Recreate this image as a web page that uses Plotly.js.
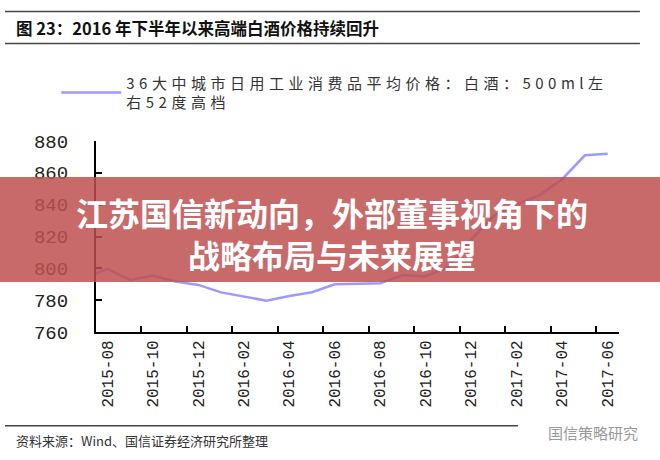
<!DOCTYPE html>
<html>
<head>
<meta charset="utf-8">
<script src="https://cdn.plot.ly/plotly-3.0.1.min.js"></script>
<style>
  html, body { margin: 0; padding: 0; background: #fff; }
  #chart { width: 660px; height: 460px; }
  .legendtext { letter-spacing: 4.5px; }
</style>
</head>
<body>
<div id="chart"></div>
<script>
// ---- data ----
const months = ['2015-07','2015-08','2015-09','2015-10','2015-11','2015-12',
  '2016-01','2016-02','2016-03','2016-04','2016-05','2016-06','2016-07','2016-08',
  '2016-09','2016-10','2016-11','2016-12','2017-01','2017-02','2017-03','2017-04',
  '2017-05','2017-06'];
const priceHighBaijiu = [794, 799.6, 792.7, 795.5, 791.7, 789.6,
  784.9, 782.2, 779.7, 782.6, 785, 790, 790.4, 790.7,
  795.8, 794.9, 801, 818, 833, 840, 846, 856,
  871, 872];
const tickLabels = ['2015-08','2015-10','2015-12','2016-02','2016-04','2016-06',
  '2016-08','2016-10','2016-12','2017-02','2017-04','2017-06'];
const yTicks = [760, 780, 800, 820, 840, 860, 880];
const seriesName = '36大中城市日用工业消费品平均价格：白酒：500ml左<br>右52度高档';
const figTitle = '图 23：2016 年下半年以来高端白酒价格持续回升';
const sourceText = '资料来源：Wind、国信证券经济研究所整理';
const bannerText = '江苏国信新动向，外部董事视角下的<br>战略布局与未来展望';
const watermark = '国信策略研究';

const cjk = '"Noto Sans CJK SC", "Noto Sans", sans-serif';
const mono = '"Liberation Mono", "DejaVu Sans Mono", monospace';

const trace = {
  type: 'scatter',
  mode: 'lines',
  x: months,
  y: priceHighBaijiu,
  name: seriesName,
  line: { color: '#9a9aff', width: 2.5 },
  showlegend: true
};

const layout = {
  width: 660, height: 460,
  margin: { l: 96, r: 41, t: 141, b: 128, pad: 0 },
  paper_bgcolor: '#ffffff',
  plot_bgcolor: '#ffffff',
  showlegend: true,
  legend: {
    x: -0.076, xanchor: 'left', y: 1.39, yanchor: 'top',
    font: { family: cjk, size: 15, color: '#333' },
    bgcolor: 'rgba(0,0,0,0)', borderwidth: 0,
    itemwidth: 60
  },
  xaxis: {
    type: 'category',
    categoryorder: 'array', categoryarray: months,
    range: [0.5, 23.5],
    tickmode: 'array', tickvals: tickLabels, ticktext: tickLabels,
    tickson: 'boundaries',
    ticks: 'inside', ticklen: 6, tickwidth: 2, tickcolor: '#000',
    tickangle: -90,
    tickfont: { family: mono, size: 16, color: '#222' },
    showline: true, linecolor: '#000', linewidth: 2,
    showgrid: false, zeroline: false, fixedrange: true
  },
  yaxis: {
    range: [760, 880],
    tickmode: 'array', tickvals: yTicks,
    ticks: 'inside', ticklen: 6, tickwidth: 2, tickcolor: '#000',
    tickfont: { family: mono, size: 19, color: '#222' },
    ticklabelstandoff: 22,
    showline: true, linecolor: '#000', linewidth: 2,
    showgrid: false, zeroline: false, fixedrange: true
  },
  shapes: [
    { type: 'line', xref: 'paper', yref: 'paper', x0: -0.174, x1: 1.04, y0: 1.678, y1: 1.678,
      line: { color: '#444', width: 1.5 } },
    { type: 'line', xref: 'paper', yref: 'paper', x0: -0.174, x1: 1.04, y0: 1.511, y1: 1.511,
      line: { color: '#444', width: 1.5 } },
    { type: 'line', xref: 'paper', yref: 'paper', x0: -0.174, x1: 0.807, y0: -0.491, y1: -0.491,
      line: { color: '#444', width: 1.5 } },
    { type: 'rect', xref: 'paper', yref: 'paper', x0: -0.19, x1: 1.09, y0: 0.262, y1: 0.811,
      layer: 'above', line: { width: 0 }, fillcolor: 'rgba(190,80,80,0.85)' }
  ],
  annotations: [
    { xref: 'paper', yref: 'paper', x: -0.157, y: 1.594, xanchor: 'left', yanchor: 'middle',
      text: '<b>' + figTitle + '</b>', showarrow: false,
      font: { family: cjk, size: 16.5, color: '#111' } },
    { xref: 'paper', yref: 'paper', x: -0.157, y: -0.57, xanchor: 'left', yanchor: 'middle',
      text: sourceText, showarrow: false,
      font: { family: cjk, size: 13, color: '#333' } },
    { xref: 'paper', yref: 'paper', x: 1.04, y: -0.525, xanchor: 'right', yanchor: 'middle',
      text: watermark, showarrow: false,
      font: { family: cjk, size: 15, color: '#999' } },
    { xref: 'paper', yref: 'paper', x: 0.452, y: 0.52, xanchor: 'center', yanchor: 'middle',
      text: '<b>' + bannerText + '</b>', showarrow: false,
      font: { family: cjk, size: 32, color: '#ffffff' } }
  ]
};

Plotly.newPlot('chart', [trace], layout, { staticPlot: true, displayModeBar: false });
</script>
</body>
</html>
